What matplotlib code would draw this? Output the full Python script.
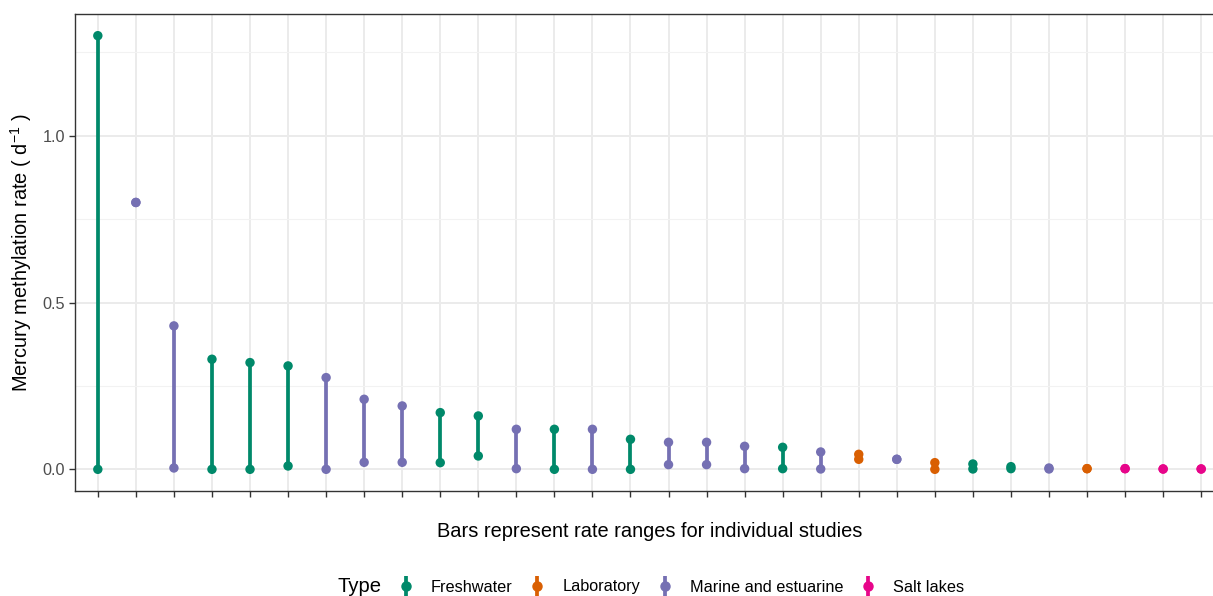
import numpy as np
import matplotlib.pyplot as plt
from matplotlib.lines import Line2D
from matplotlib.ticker import MultipleLocator

plt.rcParams['font.family'] = ['Liberation Sans', 'DejaVu Sans']
plt.rcParams['mathtext.fontset'] = 'custom'
plt.rcParams['mathtext.rm'] = 'Liberation Sans'
plt.rcParams['mathtext.it'] = 'Liberation Sans:italic'

# one entry per study, sorted by upper rate
rate_high = [1.30, 0.80, 0.43, 0.33, 0.32, 0.31, 0.275, 0.21, 0.19, 0.17,
             0.16, 0.12, 0.12, 0.12, 0.09, 0.081, 0.081, 0.069, 0.066, 0.052,
             0.045, 0.03, 0.02, 0.016, 0.008, 0.004, 0.002, 0.002, 0.001, 0.001]
rate_low = [0.0, 0.80, 0.004, 0.0, 0.0, 0.01, 0.0, 0.021, 0.021, 0.02,
            0.04, 0.002, 0.0, 0.0, 0.0, 0.014, 0.014, 0.002, 0.002, 0.001,
            0.03, 0.03, 0.0, 0.001, 0.002, 0.001, 0.002, 0.002, 0.001, 0.001]
study_type = ['Freshwater', 'Marine and estuarine', 'Marine and estuarine',
              'Freshwater', 'Freshwater', 'Freshwater', 'Marine and estuarine',
              'Marine and estuarine', 'Marine and estuarine', 'Freshwater',
              'Freshwater', 'Marine and estuarine', 'Freshwater',
              'Marine and estuarine', 'Freshwater', 'Marine and estuarine',
              'Marine and estuarine', 'Marine and estuarine', 'Freshwater',
              'Marine and estuarine', 'Laboratory', 'Marine and estuarine',
              'Laboratory', 'Freshwater', 'Freshwater', 'Marine and estuarine',
              'Laboratory', 'Salt lakes', 'Salt lakes', 'Salt lakes']

type_names = ['Freshwater', 'Laboratory', 'Marine and estuarine', 'Salt lakes']
type_colors = {'Freshwater': '#00896A', 'Laboratory': '#D95F02',
               'Marine and estuarine': '#7570B3', 'Salt lakes': '#E7058A'}

W, H = 1213, 596
fig = plt.figure(figsize=(W / 100, H / 100), dpi=100)
# panel runs a little past the right edge, as in the cropped original
ax = fig.add_axes([75 / W, 1 - 491 / H, (1224 - 75) / W, (491 - 14) / H])

x = np.arange(1, len(rate_high) + 1)
cols = [type_colors[t] for t in study_type]

ax.vlines(x, rate_low, rate_high, colors=cols, lw=2.7, zorder=3)
ax.scatter(x, rate_high, s=46, c=cols, zorder=4, linewidths=0)
ax.scatter(x, rate_low, s=46, c=cols, zorder=4, linewidths=0)

ax.set_xlim(0.4, len(x) + 0.6)
ax.set_ylim(-0.065, 1.365)
ax.set_xticks(x)
ax.set_xticklabels([])
ax.yaxis.set_major_locator(MultipleLocator(0.5))
ax.yaxis.set_minor_locator(MultipleLocator(0.25))
ax.yaxis.set_major_formatter(lambda v, p: f'{v:.1f}')

ax.grid(which='major', color='#EBEBEB', lw=1.4, zorder=0)
ax.grid(which='minor', axis='y', color='#F2F2F2', lw=0.8, zorder=0)
ax.set_axisbelow(True)
for s in ax.spines.values():
    s.set_color('#333333')
    s.set_linewidth(1.0)
ax.spines['right'].set_visible(False)
ax.tick_params(which='major', length=4.5, width=1.0, color='#333333',
               labelsize=11.7, labelcolor='#4D4D4D', pad=2.5)
ax.tick_params(which='minor', length=0)

ax.set_xlabel('Bars represent rate ranges for individual studies',
              fontsize=14.4, labelpad=15.5)
ax.set_ylabel('Mercury methylation rate ( d$^{-1}$ )', fontsize=14.4,
              labelpad=6)

handles = []
for t in type_names:
    c = type_colors[t]
    handles.append((Line2D([], [], color=c, marker='|', ms=15, mew=2.7,
                           ls='none'),
                    Line2D([], [], color=c, marker='o', ms=6.5, ls='none')))
fig.text(338 / W, 1 - 586 / H, 'Type', fontsize=14.6, va='center')
fig.legend(handles, type_names, loc='center left',
           bbox_to_anchor=(388 / W, 1 - 587 / H), ncol=4, frameon=False,
           fontsize=11.7, handlelength=1.2, handletextpad=0.95,
           columnspacing=0.9, borderpad=0)

fig.savefig('out.png', dpi=100)
